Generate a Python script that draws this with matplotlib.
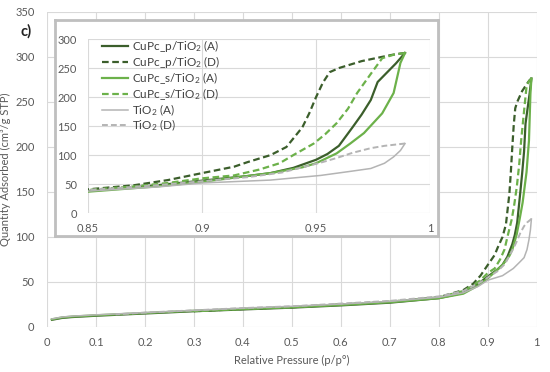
import matplotlib.pyplot as plt

plt.rcParams['font.family'] = ['Lato', 'DejaVu Sans']
plt.rcParams['mathtext.default'] = 'regular'

# adsorption / desorption branches
x_low = [0.01, 0.03, 0.05, 0.1, 0.2, 0.3, 0.4, 0.5, 0.6, 0.7, 0.8, 0.85, 0.88]

p_ads_x = x_low + [0.9, 0.92, 0.93, 0.94, 0.95, 0.955, 0.96, 0.966, 0.97, 0.974, 0.977, 0.98, 0.985, 0.989]
p_ads_y = [8, 10, 11, 12.5, 15, 17.5, 19.5, 21.5, 24, 27, 32, 38, 48,
           56, 64, 69, 78, 92, 102, 116, 148, 170, 195, 226, 238, 258, 276]

p_des_x = [0.989, 0.985, 0.981, 0.97, 0.96, 0.956, 0.953, 0.95, 0.947, 0.944, 0.937, 0.93,
           0.92, 0.914, 0.9, 0.885, 0.87, 0.85, 0.8, 0.7, 0.6, 0.5, 0.4, 0.3]
p_des_y = [276, 274, 271, 262, 250, 243, 225, 200, 172, 148, 114, 100,
           88, 80, 69, 57, 48, 41, 33, 28, 25, 22, 20, 17.5]

s_ads_x = x_low + [0.9, 0.92, 0.93, 0.944, 0.95, 0.959, 0.965, 0.971, 0.975, 0.979, 0.984, 0.987, 0.989]
s_ads_y = [8.5, 10.5, 11.5, 13, 15.5, 18, 20, 22, 24.5, 27.5, 32, 37, 46,
           54, 64, 69, 79, 86, 103, 120, 138, 155, 172, 207, 259, 276]

s_des_x = [0.989, 0.984, 0.979, 0.974, 0.968, 0.964, 0.959, 0.954, 0.949, 0.94, 0.934, 0.925,
           0.914, 0.9, 0.885, 0.87, 0.85, 0.8, 0.7, 0.6, 0.5, 0.4, 0.3]
s_des_y = [276, 273, 267, 240, 207, 180, 155, 136, 120, 100, 86, 75,
           65, 60, 52, 46, 40, 33, 28, 25, 22, 20, 17.5]

t_ads_x = x_low + [0.9, 0.93, 0.952, 0.965, 0.974, 0.98, 0.984, 0.987, 0.989]
t_ads_y = [9, 11, 12, 13.5, 16, 18.5, 21, 23, 25.5, 28.5, 33, 38, 45,
           52, 57, 65, 72, 77, 86, 97, 108, 120]

t_des_x = [0.989, 0.98, 0.974, 0.966, 0.959, 0.952, 0.944, 0.935, 0.92, 0.9, 0.88, 0.85,
           0.8, 0.7, 0.6, 0.5, 0.4, 0.3, 0.2, 0.14]
t_des_y = [120, 116, 112, 104, 95, 87, 79, 70, 62, 55, 48, 40,
           34, 29, 26, 23, 21, 18.5, 16, 14]

dark = '#3b5e2b'
light = '#6cb14a'
grey = '#b4b4b4'
txt = '#595959'
grid_c = '#d9d9d9'

series = [
    (p_ads_x, p_ads_y, dark, '-', 1.6, 'CuPc_p/TiO$_2$ (A)'),
    (p_des_x, p_des_y, dark, '--', 1.6, 'CuPc_p/TiO$_2$ (D)'),
    (s_ads_x, s_ads_y, light, '-', 1.6, 'CuPc_s/TiO$_2$ (A)'),
    (s_des_x, s_des_y, light, '--', 1.6, 'CuPc_s/TiO$_2$ (D)'),
    (t_ads_x, t_ads_y, grey, '-', 1.1, 'TiO$_2$ (A)'),
    (t_des_x, t_des_y, grey, '--', 1.4, 'TiO$_2$ (D)'),
]


def draw(ax):
    for xs, ys, c, ls, lw, lab in series:
        ax.plot(xs, ys, color=c, linestyle=ls, linewidth=lw, label=lab,
                dashes=(3, 1.6) if ls == '--' else (None, None))


def style(ax):
    for s in ax.spines.values():
        s.set_visible(False)
    ax.grid(True, color=grid_c, linewidth=0.8)
    ax.set_axisbelow(True)
    ax.tick_params(length=0, colors=txt, labelsize=8)


fig = plt.figure(figsize=(5.5, 3.72), dpi=100)

ax = fig.add_axes([0.0855, 0.121, 0.8905, 0.847])
draw(ax)
style(ax)
ax.set_xlim(0, 1)
ax.set_ylim(0, 350)
ax.set_xticks([0, 0.1, 0.2, 0.3, 0.4, 0.5, 0.6, 0.7, 0.8, 0.9, 1])
ax.set_xticklabels(['0', '0.1', '0.2', '0.3', '0.4', '0.5', '0.6', '0.7', '0.8', '0.9', '1'])
ax.set_yticks(range(0, 351, 50))
ax.tick_params(axis='y', pad=9)
ax.tick_params(axis='x', pad=7)
ax.set_xlabel('Relative Pressure (p/p°)', color=txt, fontsize=8, labelpad=5)
ax.set_ylabel('Quantity Adsorbed (cm³/g STP)', color=txt, fontsize=8, labelpad=3)

fig.text(0.038, 0.905, 'c)', fontsize=10.5, fontweight='bold', color='#222222')

# frame of the inset
frame = fig.add_axes([0.1, 0.366, 0.696, 0.581])
frame.set_xticks([])
frame.set_yticks([])
for s in frame.spines.values():
    s.set_color('#bfbfbf')
    s.set_linewidth(2)

axi = fig.add_axes([0.16, 0.427, 0.622, 0.468])
draw(axi)
style(axi)
axi.set_xlim(0.85, 1)
axi.set_ylim(0, 300)
axi.set_xticks([0.85, 0.9, 0.95, 1])
axi.set_xticklabels(['0.85', '0.9', '0.95', '1'])
axi.set_yticks(range(0, 301, 50))
axi.tick_params(axis='y', pad=8)
axi.tick_params(axis='x', pad=7)
leg = axi.legend(loc='upper left', frameon=False, fontsize=8.5, handlelength=2.2,
                 handletextpad=0.35, labelspacing=0.0, bbox_to_anchor=(0.02, 1.045),
                 borderaxespad=0.2)
for t in leg.get_texts():
    t.set_color('#404040')

fig.savefig('out.png', dpi=100)
